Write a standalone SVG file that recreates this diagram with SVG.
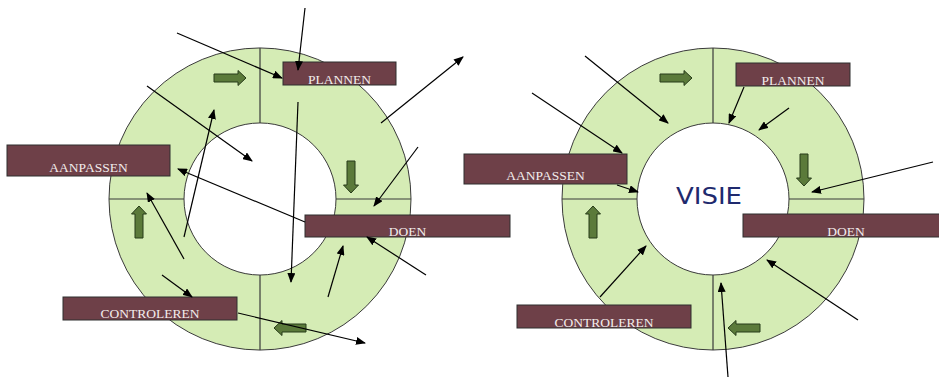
<svg xmlns="http://www.w3.org/2000/svg" width="939" height="377" viewBox="0 0 939 377">
<style>
.ring{fill:#d5ecb5;stroke:#3a3a3a;stroke-width:1;fill-rule:evenodd}
.div{stroke:#3a3a3a;stroke-width:1.2;fill:none}
.box{fill:#6e4048;stroke:#2e2e2e;stroke-width:1}
.lbl{font-family:"Liberation Serif","Times New Roman",serif;font-size:13.5px;fill:#f2ecec;text-anchor:middle}
.blk{fill:#5b7a3a;stroke:#263a18;stroke-width:1}
.con{stroke:#000;stroke-width:1.2;fill:none;marker-end:url(#ah)}
</style>
<defs>
<marker id="ah" markerWidth="10" markerHeight="8" refX="9" refY="4" orient="auto" markerUnits="userSpaceOnUse"><path d="M0,0 L10,4 L0,8 z" fill="#000"/></marker>
<path id="blk" d="M0,-4 H24 V-7.5 L32,0 L24,7.5 V4 H0 Z"/>
</defs>
<rect width="939" height="377" fill="#fff"/>
<g id="cycle-left">
<path class="ring" d="M109,199 a151,151 0 1,0 302,0 a151,151 0 1,0 -302,0 Z M184,199 a76,76 0 1,0 152,0 a76,76 0 1,0 -152,0 Z"/>
<path class="div" d="M260,48 V123 M260,275 V350 M109,199 H184 M336,199 H411"/>
<g class="blk">
<use href="#blk" transform="translate(214,78)"/>
<use href="#blk" transform="translate(351,161) rotate(90)"/>
<use href="#blk" transform="translate(306,328) rotate(180)"/>
<use href="#blk" transform="translate(139,238) rotate(-90)"/>
</g>
</g>
<g id="cycle-right">
<path class="ring" d="M562,199 a151,151 0 1,0 302,0 a151,151 0 1,0 -302,0 Z M637,199 a76,76 0 1,0 152,0 a76,76 0 1,0 -152,0 Z"/>
<path class="div" d="M713,48 V123 M713,275 V350 M562,199 H637 M789,199 H864"/>
<g class="blk">
<use href="#blk" transform="translate(660,78)"/>
<use href="#blk" transform="translate(804,154) rotate(90)"/>
<use href="#blk" transform="translate(760,328) rotate(180)"/>
<use href="#blk" transform="translate(593,238) rotate(-90)"/>
</g>
<text id="visie" x="709" y="204" font-family="DejaVu Sans, sans-serif" font-size="23" fill="#1f2a6e" text-anchor="middle" textLength="66" lengthAdjust="spacingAndGlyphs">VISIE</text>
</g>
<g id="node-plannen-l"><rect class="box" x="283" y="62" width="113" height="23"/><text class="lbl" x="339.5" y="84">PLANNEN</text></g>
<g id="node-aanpassen-l"><rect class="box" x="7" y="145" width="163" height="31"/><text class="lbl" x="88.5" y="172">AANPASSEN</text></g>
<g id="node-doen-l"><rect class="box" x="305" y="215" width="205" height="22"/><text class="lbl" x="407.5" y="236">DOEN</text></g>
<g id="node-controleren-l"><rect class="box" x="63" y="297" width="174" height="23"/><text class="lbl" x="150" y="318">CONTROLEREN</text></g>
<g id="node-plannen-r"><rect class="box" x="736" y="63" width="114" height="23"/><text class="lbl" x="793" y="85">PLANNEN</text></g>
<g id="node-aanpassen-r"><rect class="box" x="464" y="154" width="163" height="30"/><text class="lbl" x="545.5" y="180">AANPASSEN</text></g>
<g id="node-doen-r"><rect class="box" x="743" y="214" width="206" height="23"/><text class="lbl" x="846" y="236">DOEN</text></g>
<g id="node-controleren-r"><rect class="box" x="517" y="305" width="174" height="23"/><text class="lbl" x="604" y="327">CONTROLEREN</text></g>
<g id="connectors">
<line class="con" x1="305" y1="8" x2="298" y2="70"/>
<line class="con" x1="177" y1="33" x2="282" y2="78"/>
<line class="con" x1="147" y1="86" x2="252" y2="161"/>
<line class="con" x1="381" y1="123" x2="463" y2="57"/>
<line class="con" x1="418" y1="147" x2="374" y2="206"/>
<line class="con" x1="298" y1="102" x2="291" y2="282"/>
<line class="con" x1="184" y1="237" x2="214" y2="110"/>
<line class="con" x1="305" y1="222" x2="178" y2="169"/>
<line class="con" x1="184" y1="259" x2="147" y2="193"/>
<line class="con" x1="162" y1="275" x2="192" y2="297"/>
<line class="con" x1="328" y1="297" x2="343" y2="246"/>
<line class="con" x1="426" y1="275" x2="367" y2="237"/>
<line class="con" x1="238" y1="313" x2="365" y2="343"/>
<line class="con" x1="585" y1="56" x2="668" y2="123"/>
<line class="con" x1="532" y1="93" x2="622" y2="153"/>
<line class="con" x1="617" y1="185" x2="638" y2="192"/>
<line class="con" x1="744" y1="87" x2="729" y2="123"/>
<line class="con" x1="789" y1="108" x2="759" y2="130"/>
<line class="con" x1="933" y1="162" x2="812" y2="192"/>
<line class="con" x1="858" y1="320" x2="767" y2="260"/>
<line class="con" x1="728" y1="377" x2="721" y2="283"/>
<line class="con" x1="600" y1="297" x2="646" y2="246"/>
</g>
</svg>
